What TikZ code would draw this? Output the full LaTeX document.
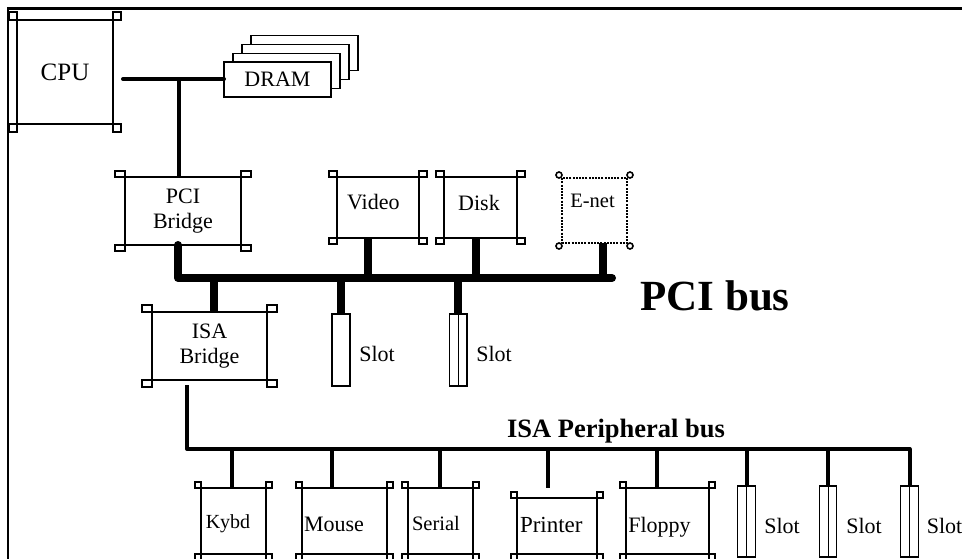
\documentclass[tikz,border=0pt]{standalone}
\usepackage{fontspec}
\setmainfont{Liberation Serif}
\usetikzlibrary{calc}
\newcommand{\fsz}[1]{\fontsize{#1}{#1}\selectfont}
\tikzset{
 box/.style={draw, line width=1.2pt, inner sep=0pt, outer sep=0pt, fill=white},
 sqr/.style={draw, line width=1.2pt, fill=white},
 cpubus/.style={line width=4pt, line cap=round},
 pcibus/.style={line width=8pt, line cap=round, line join=round},
 pcidrop/.style={line width=8pt},
 isabus/.style={line width=4pt, line join=round},
 isadrop/.style={line width=4pt},
 slotbox/.style={box, minimum height=72pt},
 dev/.style={box, minimum height=66pt},
}
\newcommand{\corners}[3]{%
 \draw[sqr] ($(#1.north west)+(-#2,-#3)$) rectangle (#1.north west);
 \draw[sqr] ($(#1.north east)+(#2,-#3)$) rectangle (#1.north east);
 \draw[sqr] ($(#1.south west)+(-#2,#3)$) rectangle (#1.south west);
 \draw[sqr] ($(#1.south east)+(#2,#3)$) rectangle (#1.south east);
}
\begin{document}
\begin{tikzpicture}[x=1pt,y=-1pt,font=\fsz{22}]
\useasboundingbox (0,0) rectangle (962,559);
% frame
\draw[line width=2.2pt] (8,560) -- (8,8.5) -- (963,8.5);

% CPU
\node[box, minimum width=96pt, minimum height=104pt, font=\fsz{25}] (cpu) at (65,72) {CPU};
\corners{cpu}{8}{8}

% DRAM stack
\foreach \k in {3,2,1}
  \node[box, minimum width=107pt, minimum height=35pt] (dram\k) at (277.5+9*\k,79.5-8.7*\k) {};
\node[box, minimum width=107pt, minimum height=35pt] (dram) at (277.5,79.5) {DRAM};

% PCI bridge
\node[box, minimum width=116pt, minimum height=68pt, align=center, font=\fontsize{22}{25}\selectfont] (pcib) at (183,211) {PCI\\Bridge};
\corners{pcib}{10}{6}

% CPU-memory bus
\coordinate (cb) at (123,79);
\coordinate (j1) at (179,79);
\draw[cpubus] (cb) -- (cb -| dram.west);
\draw[line width=4pt] (j1) -- (j1 |- pcib.north);

% PCI devices
\node[box, minimum width=82pt, minimum height=61pt, label={[xshift=-4.7pt,yshift=5pt]center:Video}] (video) at (378,207.5) {};
\corners{video}{8}{6}
\node[box, minimum width=73pt, minimum height=61pt, label={[xshift=-1.5pt,yshift=5pt]center:Disk}] (disk) at (480.5,207.5) {};
\corners{disk}{8}{6}
\node[box, line width=2.4pt, dash pattern=on 2pt off 1.2pt, minimum width=65pt, minimum height=65pt, label={[xshift=-2pt,yshift=10pt,font=\fsz{20.5}]center:E-net}] (enet) at (594.5,210.5) {};
\foreach \a/\dx/\dy in {north west/-3/-3, north east/3/-3, south west/-3/3, south east/3/3}
  \draw[line width=1.6pt, fill=white] ($(enet.\a)+(\dx,\dy)$) circle (3pt);

% ISA bridge
\node[box, minimum width=115pt, minimum height=68pt, align=center, font=\fontsize{22}{25}\selectfont] (isab) at (209.5,346) {ISA\\Bridge};
\corners{isab}{10}{7}

% PCI slots
\node[slotbox, minimum width=18pt] (slot1) at (341,350) {};
\node[slotbox, minimum width=17.5pt] (slot2) at (458.3,350) {};
\draw[line width=1.2pt] (slot2.north) -- (slot2.south);
\node (slot1t) at (377,354) {Slot};
\node (slot2t) at (494,354) {Slot};

% PCI bus
\coordinate (pbL) at (178,278);
\coordinate (pbR) at (612,278);
\draw[pcibus] (pcib.south -| pbL) -- (pbL) -- (pbR);
\coordinate (pi) at (214,278);
\coordinate (ps1) at (341,278);
\coordinate (pv) at (368,278);
\coordinate (ps2) at (458.3,278);
\coordinate (pd) at (476,278);
\coordinate (pe) at (603,278);
\draw[pcidrop] (pi) -- (pi |- isab.north);
\draw[pcidrop] (ps1) -- (ps1 |- slot1.north);
\draw[pcidrop] (pv) -- (pv |- video.south);
\draw[pcidrop] (ps2) -- (ps2 |- slot2.north);
\draw[pcidrop] (pd) -- (pd |- disk.south);
\draw[pcidrop] (pe) -- (pe |- enet.south);
\node[font=\bfseries\fsz{43}] (pcilbl) at (715,296) {PCI bus};

% ISA devices
\node[dev, minimum width=65pt, label={[xshift=-5.5pt,yshift=-3pt,font=\fsz{20}]center:Kybd}] (kybd) at (233.5,521) {};
\corners{kybd}{6}{6}
\node[dev, minimum width=85pt, label={[xshift=-10.5pt,yshift=-3pt]center:Mouse}] (mouse) at (344.5,521) {};
\corners{mouse}{6}{6}
\node[dev, minimum width=65pt, label={[xshift=-4.5pt,yshift=-2pt,font=\fsz{20.5}]center:Serial}] (serial) at (440.5,521) {};
\corners{serial}{6}{6}
\node[box, minimum width=80pt, minimum height=56pt, label={[xshift=-5.7pt,yshift=1pt,font=\fsz{23}]center:Printer}] (printer) at (557,526) {};
\corners{printer}{6}{6}
\node[dev, minimum width=83pt, label={[xshift=-8pt,yshift=-6pt]center:Floppy}] (floppy) at (667.5,521) {};
\corners{floppy}{6}{6}

% ISA slots
\node[box, minimum width=18pt, minimum height=71pt] (slota) at (746.7,521.5) {};
\node[box, minimum width=17pt, minimum height=71pt] (slotb) at (828.3,521.5) {};
\node[box, minimum width=18pt, minimum height=71pt] (slotc) at (909.5,521.5) {};
\foreach \s in {slota,slotb,slotc}
  \draw[line width=1.2pt] (\s.north) -- (\s.south);
\node (slotat) at (782,526) {Slot};
\node (slotbt) at (864,526) {Slot};
\node (slotct) at (944.5,526) {Slot};

% ISA bus
\coordinate (ib0) at (187,385);
\coordinate (ib1) at (187,449);
\coordinate (ib2) at (909.5,449);
\draw[isabus] (ib0) -- (ib1) -- (ib2) -- (ib2 |- slotc.north);
\coordinate (ik) at (232,449);
\coordinate (im) at (332,449);
\coordinate (is) at (440,449);
\coordinate (ip) at (548,449);
\coordinate (if) at (657,449);
\coordinate (isa) at (746.7,449);
\coordinate (isb) at (828.3,449);
\draw[isadrop] (ik) -- (ik |- kybd.north);
\draw[isadrop] (im) -- (im |- mouse.north);
\draw[isadrop] (is) -- (is |- serial.north);
\draw[isadrop] (ip) -- (ip |- floppy.north);
\draw[isadrop] (if) -- (if |- floppy.north);
\draw[isadrop] (isa) -- (isa |- slota.north);
\draw[isadrop] (isb) -- (isb |- slotb.north);
\node[font=\bfseries\fsz{26.5}] (isalbl) at (616,431) {ISA Peripheral bus};
\end{tikzpicture}
\end{document}
